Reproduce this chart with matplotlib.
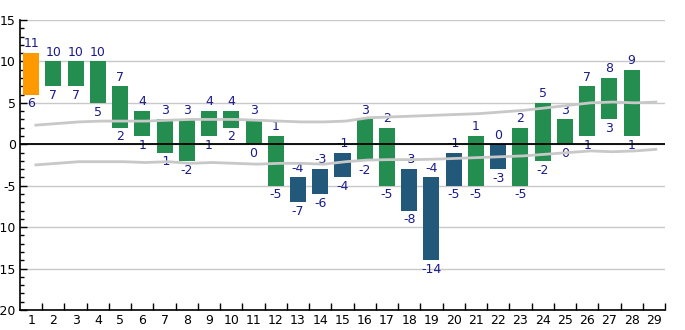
import matplotlib
matplotlib.use("Agg")
import matplotlib.pyplot as plt
from matplotlib.ticker import MultipleLocator, FixedLocator

plt.rcParams["axes.unicode_minus"] = False

categories = list(range(1, 30))
lows = [6, 7, 7, 5, 2, 1, -1, -2, 1, 2, 0, -5, -7, -6, -4, -2, -5, -8, -14, -5, -5, -3, -5, -2, 0, 1, 3, 1, None]
highs = [11, 10, 10, 10, 7, 4, 3, 3, 4, 4, 3, 1, -4, -3, -1, 3, 2, -3, -4, -1, 1, 0, 2, 5, 3, 7, 8, 9, None]
kinds = ["first"] + ["up"] * 11 + ["down", "down", "down", "up", "up", "down", "down", "down", "up", "down", "up", "up", "up", "up", "up", "up", None]
upper_band = [2.3, 2.5, 2.7, 2.8, 2.8, 2.8, 2.9, 3.0, 3.0, 3.0, 2.9, 2.8, 2.7, 2.7, 2.8,
              3.2, 3.3, 3.4, 3.5, 3.6, 3.7, 3.9, 4.1, 4.4, 4.7, 5.0, 5.1, 5.0, 5.1]
lower_band = [-2.5, -2.3, -2.1, -2.1, -2.1, -2.2, -2.1, -2.3, -2.2, -2.3, -2.4, -2.3, -2.3, -2.4, -2.1,
              -1.9, -1.85, -1.85, -1.8, -1.7, -1.6, -1.5, -1.4, -1.2, -1.0, -0.8, -0.9, -0.8, -0.6]

colors = {"first": "#FF9900", "up": "#238E50", "down": "#22587A"}
label_color = "#1A1A8C"

fig = plt.figure(figsize=(6.85, 3.3), dpi=100)
ax = fig.add_axes([20 / 685, 20 / 330, 645 / 685, 290 / 330])

for c, lo, hi, k in zip(categories, lows, highs, kinds):
    if lo is None:
        continue
    ax.bar(c, hi - lo, bottom=lo, width=0.72, color=colors[k], zorder=2)
    ax.annotate(str(hi), (c, hi), xytext=(0, 2), textcoords="offset points",
                ha="center", va="bottom", fontsize=9, color=label_color, zorder=3)
    ax.annotate(str(lo), (c, lo), xytext=(0, -2), textcoords="offset points",
                ha="center", va="top", fontsize=9, color=label_color, zorder=3)

xs = [c + 0.15 for c in categories]
ax.plot(xs, upper_band, color="#C8C8C8", lw=2, zorder=4, solid_capstyle="butt")
ax.plot(xs, lower_band, color="#C8C8C8", lw=2, zorder=4, solid_capstyle="butt")

ax.axhline(0, color="black", lw=1.3, zorder=3)

ax.set_xlim(0.5, 29.5)
ax.set_ylim(-20, 15)

ax.yaxis.set_major_locator(MultipleLocator(5))
ax.yaxis.set_minor_locator(MultipleLocator(1))
ax.grid(axis="y", which="major", color="#C8C8C8", lw=1, zorder=0)
ax.set_axisbelow(True)

ax.xaxis.set_major_locator(FixedLocator([c + 0.5 for c in categories]))
ax.xaxis.set_minor_locator(FixedLocator(categories))
ax.xaxis.set_major_formatter(plt.NullFormatter())
ax.xaxis.set_minor_formatter(plt.FixedFormatter([str(c) for c in categories]))
ax.tick_params(axis="x", which="major", direction="in", length=5, width=1)
ax.tick_params(axis="x", which="minor", length=0, labelsize=9, pad=3)
ax.tick_params(axis="y", which="major", direction="in", length=5, width=1, labelsize=9, pad=3)
ax.tick_params(axis="y", which="minor", direction="in", length=3, width=1)

for s in ["top", "right"]:
    ax.spines[s].set_visible(False)
for s in ["left", "bottom"]:
    ax.spines[s].set_linewidth(1.2)

fig.savefig("out.png", dpi=100)
